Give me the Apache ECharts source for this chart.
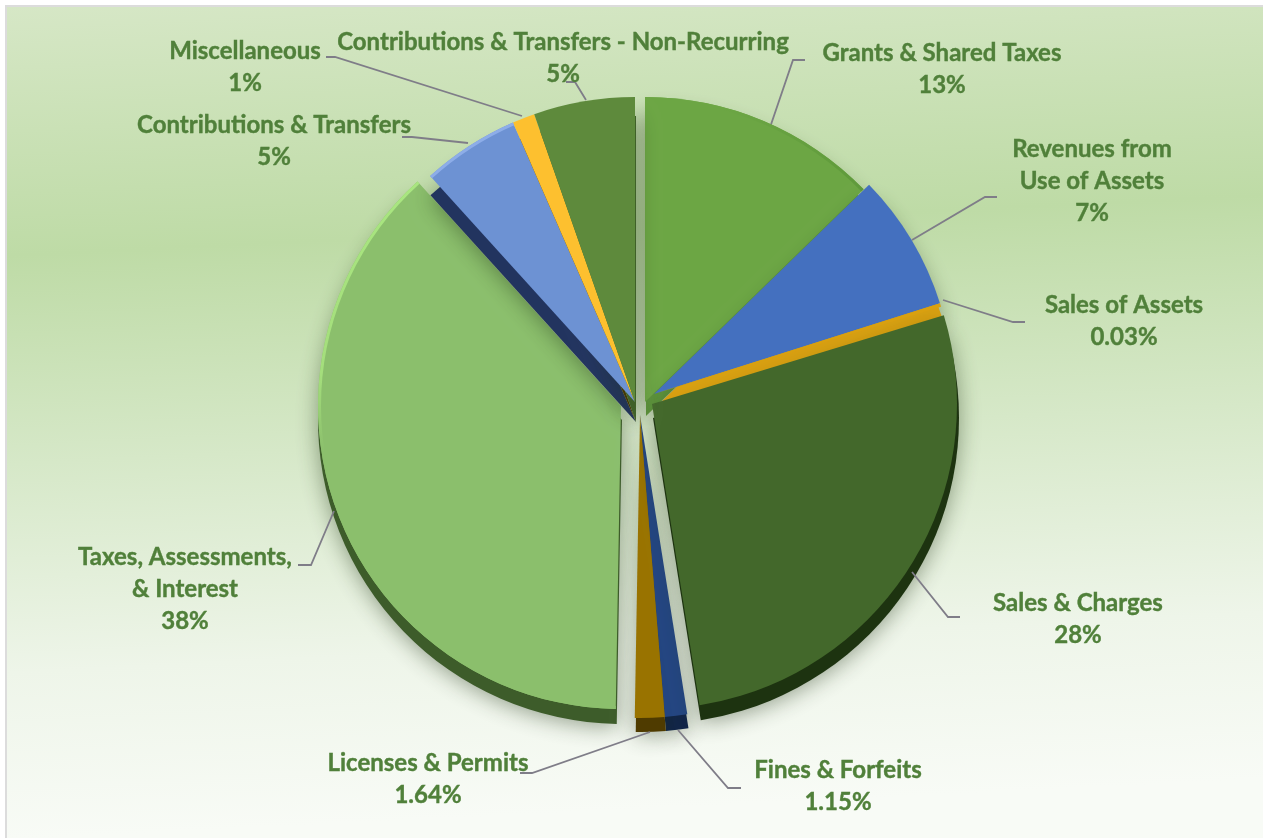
<!DOCTYPE html>
<html>
<head>
<meta charset="utf-8">
<title>Revenue by source</title>
<script src="https://cdn.jsdelivr.net/npm/echarts@6/dist/echarts.min.js"></script>
<style>
  html, body { margin: 0; padding: 0; background: #fff; overflow: hidden; }
  #chart { width: 1263px; height: 838px; }
</style>
</head>
<body>
<div id="chart"></div>
<script>
// slice sizes (share of the circle)
const categories = ['Grants & Shared Taxes', 'Revenues from\nUse of Assets', 'Sales of Assets', 'Sales & Charges',
  'Fines & Forfeits', 'Licenses & Permits', 'Taxes, Assessments,\n& Interest', 'Contributions & Transfers',
  'Miscellaneous', 'Contributions & Transfers - Non-Recurring'];
const sliceValues = [12.72, 7.39, 0.19, 27.2, 1.19, 1.58, 38.0, 5.17, 1.19, 5.36];
// percentages as printed on the chart
const printedShares = ['13%', '7%', '0.03%', '28%', '1.15%', '1.64%', '38%', '5%', '1%', '5%'];
const faceColors = ['#6ca644', '#4470bf', '#d9a00f', '#43682b', '#234581', '#997300', '#8bbf6c', '#6d92d3', '#fdc02f', '#5e8a3c'];
const sideColors = ['#5b9339', '#d9a00f', '#d9a00f', '#1d3310', '#0f2348', '#4f3b00', '#3d5c2a', '#22345f', '#4a3800', '#3f6128'];
const rimColors = [
  new echarts.graphic.LinearGradient(720, 110, 860, 190, [
    { offset: 0, color: '#6ca644' }, { offset: 1, color: '#5f9a3b' }
  ], true),
  null, null, null, null, null,
  new echarts.graphic.LinearGradient(423, 190, 318, 450, [
    { offset: 0, color: '#a9e680' }, { offset: 0.75, color: '#a4de7c' }, { offset: 1, color: '#8bbf6c' }
  ], true),
  '#8dade8', null, null
];

// each exploded group of slices has its own apex; listed in drawing order
const groups = [
  { members: [6], center: [621, 406], radius: 303, depth: 14 },
  { members: [4, 5], center: [640, 415], radius: 303, depth: 13 },
  { members: [0], center: [645, 402], radius: 305, depth: 14 },
  { members: [1, 2], center: [654, 394], radius: 300, depth: 14 },
  { members: [3], center: [652, 404], radius: 305, depth: 14 },
  { members: [7, 8, 9], center: [635, 402], radius: 305, depth: 20 }
];

// text anchor (centre, top) and leader line for every label
const labelSpots = [
  { x: 942, y: 37, line: [[763, 148], [793, 60], [805, 60]] },
  { x: 1092, y: 133, line: [[912, 240], [985, 197], [997, 197]] },
  { x: 1124, y: 289, line: [[943, 300], [1013, 322], [1025, 322]] },
  { x: 1078, y: 587, line: [[912, 572], [948, 617], [960, 617]] },
  { x: 838, y: 754, line: [[678, 730], [728, 788], [741, 788]] },
  { x: 428, y: 747, line: [[650, 732], [532, 773], [520, 773]] },
  { x: 185, y: 541, line: [[334, 511], [311, 565], [298, 565]] },
  { x: 274, y: 109, line: [[468, 143], [412, 137], [402, 137]] },
  { x: 245, y: 35, line: [[522, 116], [335, 57], [326, 57]] },
  { x: 563, y: 26, line: [[586, 100], [575, 82], [566, 82]] }
];

function sliceData(group, colors, withLabel) {
  return categories.map((name, i) => {
    const shown = group.members.includes(i) && colors[i];
    return {
      name: name,
      value: sliceValues[i],
      itemStyle: { color: shown ? colors[i] : 'transparent' },
      label: { show: withLabel && !!shown },
      labelLine: { show: withLabel && !!shown }
    };
  });
}

const pieBase = { type: 'pie', silent: true, animation: false, clockwise: true, startAngle: 90, avoidLabelOverlap: false };
const series = [];
groups.forEach((group, order) => {
  // side wall: the same slices pushed down under the face
  series.push(Object.assign({}, pieBase, {
    z: 2 + order * 3,
    center: [group.center[0] + 1, group.center[1] + group.depth],
    radius: [0, group.radius + 1],
    label: { show: false }, labelLine: { show: false },
    data: sliceData(group, sideColors, false),
    itemStyle: { shadowBlur: 22, shadowColor: 'rgba(30,50,20,0.45)', shadowOffsetY: 3 }
  }));
  series.push(Object.assign({}, pieBase, {
    z: 3 + order * 3,
    center: group.center,
    radius: [0, group.radius],
    data: sliceData(group, faceColors, true),
    label: {
      formatter: p => p.name + '\n' + printedShares[p.dataIndex],
      color: '#50803a',
      fontFamily: 'Lato',
      fontWeight: 'bold',
      fontSize: 24,
      lineHeight: 32,
      align: 'center',
      textBorderColor: '#50803a',
      textBorderWidth: 0.4
    },
    labelLine: { lineStyle: { color: '#7f7d88', width: 1.8 } },
    labelLayout: p => {
      const spot = labelSpots[p.dataIndex];
      return { x: spot.x, y: spot.y, align: 'center', verticalAlign: 'top', labelLinePoints: spot.line };
    }
  }));
  // lit edge along the arc
  series.push(Object.assign({}, pieBase, {
    z: 4 + order * 3,
    center: group.center,
    radius: [group.radius - 3, group.radius],
    label: { show: false }, labelLine: { show: false },
    data: sliceData(group, rimColors, false)
  }));
});

const chart = echarts.init(document.getElementById('chart'));
chart.setOption({
  backgroundColor: '#fff',
  graphic: [{
    type: 'rect', z: -1, silent: true,
    shape: { x: 6, y: 6, width: 1270, height: 850 },
    style: {
      stroke: '#dcdcdc', lineWidth: 2,
      fill: new echarts.graphic.LinearGradient(0, 6, 40, 838, [
        { offset: 0, color: '#d6e7c6' },
        { offset: 0.3, color: '#bedba6' },
        { offset: 0.55, color: '#d6e8c8' },
        { offset: 0.8, color: '#eef5e9' },
        { offset: 1, color: '#f8fbf6' }
      ], true)
    }
  }],
  series: series
});
window.addEventListener('resize', () => chart.resize());
</script>
</body>
</html>
